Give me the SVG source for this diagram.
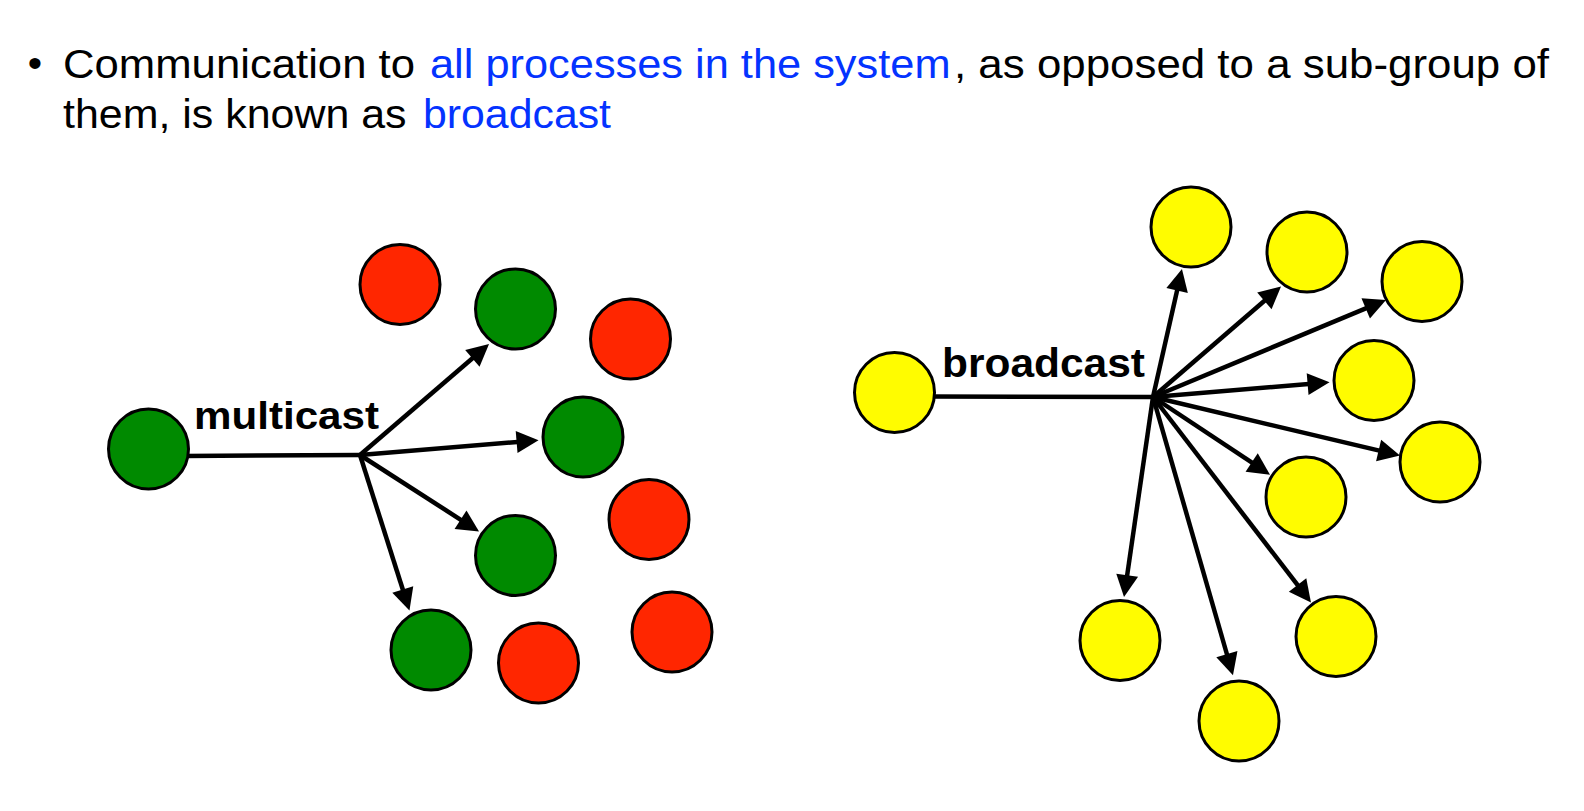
<svg xmlns="http://www.w3.org/2000/svg" width="1584" height="811" viewBox="0 0 1584 811">
  <style>
    .body { font-family: "Liberation Sans", Arial, sans-serif; font-size: 41px; fill: #000; }
    .blue { fill: #0433FF; }
    .lbl { font-family: "Liberation Sans", Arial, sans-serif; font-weight: bold; fill: #000; }
    .edge { stroke: #000; stroke-width: 4.5; fill: none; }
    .arrow { stroke: #000; stroke-width: 4.5; fill: none; marker-end: url(#arr); }
    .node { stroke: #000; stroke-width: 3; }
    .green { fill: #008A00; }
    .red { fill: #FF2600; }
    .yellow { fill: #FFFC00; }
  </style>
  <defs>
    <marker id="arr" markerUnits="userSpaceOnUse" markerWidth="22" markerHeight="22" refX="4" refY="11" orient="auto" overflow="visible">
      <path d="M0,0 L22,11 L0,22 z" fill="#000"/>
    </marker>
  </defs>
  <rect width="1584" height="811" fill="#fff"/>

  <g id="heading">
    <text class="body" x="35" y="77" font-size="18" text-anchor="middle" fill="#222">•</text>
    <text class="body" x="63" y="78" textLength="352" lengthAdjust="spacingAndGlyphs">Communication to</text>
    <text class="body blue" x="430" y="78" textLength="520.5" lengthAdjust="spacingAndGlyphs">all processes in the system</text>
    <text class="body" x="954" y="78" textLength="595" lengthAdjust="spacingAndGlyphs">, as opposed to a sub-group of</text>
    <text class="body" x="63" y="128" textLength="343.5" lengthAdjust="spacingAndGlyphs">them, is known as</text>
    <text class="body blue" x="423" y="128" textLength="188" lengthAdjust="spacingAndGlyphs">broadcast</text>
  </g>

  <g id="connectors">
    <!-- multicast -->
    <line class="edge" x1="185" y1="456" x2="360" y2="455"/>
    <line class="arrow" x1="360" y1="455" x2="475.4" y2="355.7"/>
    <line class="arrow" x1="360" y1="455" x2="520.6" y2="441.7"/>
    <line class="arrow" x1="360" y1="455" x2="463.9" y2="521.8"/>
    <line class="arrow" x1="360" y1="455" x2="404.0" y2="593.3"/>
    <text class="lbl" x="194" y="429" font-size="39" textLength="185" lengthAdjust="spacingAndGlyphs">multicast</text>
    <!-- broadcast -->
    <line class="edge" x1="930" y1="396.5" x2="1153" y2="397"/>
    <line class="arrow" x1="1153" y1="397" x2="1178.0" y2="286.6"/>
    <line class="arrow" x1="1153" y1="397" x2="1267.4" y2="298.3"/>
    <line class="arrow" x1="1153" y1="397" x2="1369.4" y2="306.9"/>
    <line class="arrow" x1="1153" y1="397" x2="1311.6" y2="383.8"/>
    <line class="arrow" x1="1153" y1="397" x2="1382.5" y2="451.4"/>
    <line class="arrow" x1="1153" y1="397" x2="1255" y2="464.7"/>
    <line class="arrow" x1="1153" y1="397" x2="1300" y2="588.2"/>
    <line class="arrow" x1="1153" y1="397" x2="1126.6" y2="579.2"/>
    <line class="arrow" x1="1153" y1="397" x2="1228" y2="658"/>
    <text class="lbl" x="942" y="377" font-size="41" textLength="203" lengthAdjust="spacingAndGlyphs">broadcast</text>
  </g>

  <!-- multicast nodes -->
  <g id="m-src"><circle class="node green" cx="148.5" cy="449" r="40"/></g>
  <g id="m-r1"><circle class="node red" cx="400" cy="284.5" r="40"/></g>
  <g id="m-g1"><circle class="node green" cx="515.5" cy="309" r="40"/></g>
  <g id="m-r2"><circle class="node red" cx="630.5" cy="339" r="40"/></g>
  <g id="m-g2"><circle class="node green" cx="583" cy="437" r="40"/></g>
  <g id="m-r3"><circle class="node red" cx="649" cy="519.5" r="40"/></g>
  <g id="m-g3"><circle class="node green" cx="515.5" cy="555.5" r="40"/></g>
  <g id="m-g4"><circle class="node green" cx="431" cy="650" r="40"/></g>
  <g id="m-r4"><circle class="node red" cx="538.5" cy="663" r="40"/></g>
  <g id="m-r5"><circle class="node red" cx="672" cy="632" r="40"/></g>

  <!-- broadcast nodes -->
  <g id="b-src"><circle class="node yellow" cx="894.5" cy="392.5" r="40"/></g>
  <g id="b-1"><circle class="node yellow" cx="1191" cy="227" r="40"/></g>
  <g id="b-2"><circle class="node yellow" cx="1307" cy="252" r="40"/></g>
  <g id="b-3"><circle class="node yellow" cx="1422" cy="281.5" r="40"/></g>
  <g id="b-4"><circle class="node yellow" cx="1374" cy="380.5" r="40"/></g>
  <g id="b-5"><circle class="node yellow" cx="1440" cy="462" r="40"/></g>
  <g id="b-6"><circle class="node yellow" cx="1306" cy="497" r="40"/></g>
  <g id="b-7"><circle class="node yellow" cx="1336" cy="636.5" r="40"/></g>
  <g id="b-8"><circle class="node yellow" cx="1120" cy="640.5" r="40"/></g>
  <g id="b-9"><circle class="node yellow" cx="1239" cy="721" r="40"/></g>
</svg>
